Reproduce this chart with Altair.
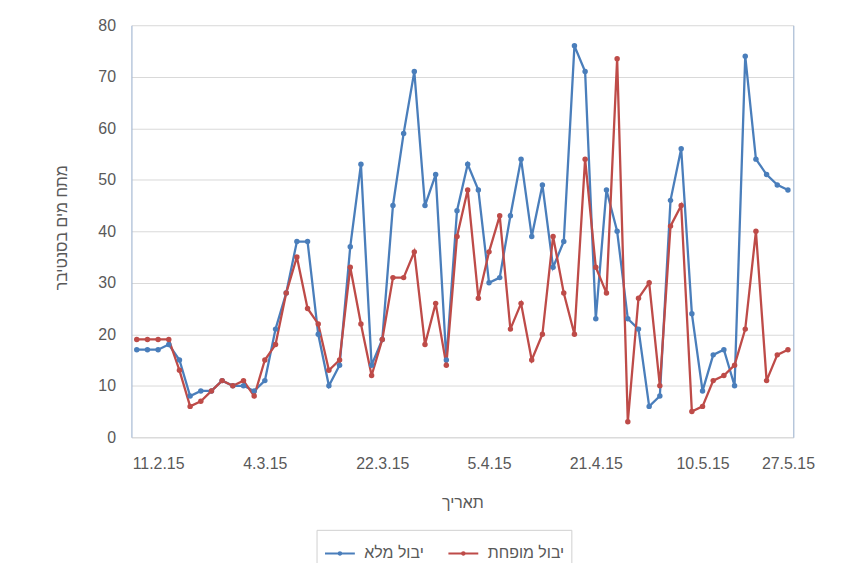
import altair as alt
import pandas as pd

# ---- data ----
series_full = "יבול מלא"
series_reduced = "יבול מופחת"

full_yield = [17, 17, 17, 18, 15, 8, 9, 9, 11, 10, 10, 9, 11,
              21, 28, 38, 38, 20, 10, 14, 37, 53, 14, 19, 45,
              59, 71, 45, 51, 15, 44, 53, 48, 30, 31, 43, 54,
              39, 49, 33, 38, 76, 71, 23, 48, 40, 23, 21, 6,
              8, 46, 56, 24, 9, 16, 17, 10, 74, 54, 51, 49, 48]
reduced_yield = [19, 19, 19, 19, 13, 6, 7, 9, 11, 10, 11, 8, 15,
                 18, 28, 35, 25, 22, 13, 15, 33, 22, 12, 19, 31,
                 31, 36, 18, 26, 14, 39, 48, 27, 36, 43, 21, 26,
                 15, 20, 39, 28, 20, 54, 33, 28, 73.5, 3, 27, 30,
                 10, 41, 45, 5, 6, 11, 12, 14, 21, 40, 11, 16, 17]

tick_positions = [2, 12, 23, 33, 43, 53, 61]
tick_labels = ["11.2.15", "4.3.15", "22.3.15", "5.4.15", "21.4.15", "10.5.15", "27.5.15"]

colors = ["#4A7EBB", "#BE4B48"]

rows = []
for i, v in enumerate(full_yield):
    rows.append({"i": i, "v": v, "s": series_full})
for i, v in enumerate(reduced_yield):
    rows.append({"i": i, "v": v, "s": series_reduced})
df = pd.DataFrame(rows)

label_expr = ""
for p, l in zip(tick_positions, tick_labels):
    label_expr += f"datum.value == {p} ? '{l}' : "
label_expr += "''"

FONT = "Liberation Sans"
GRAY = "#595959"

x_enc = alt.X(
    "i:Q",
    scale=alt.Scale(domain=[-0.5, len(full_yield) - 0.5], nice=False, zero=False),
    axis=alt.Axis(
        values=tick_positions, labelExpr=label_expr, title="תאריך",
        grid=False, ticks=False, domainColor="#D9D9D9", domainWidth=1,
        labelFont=FONT, labelFontSize=16, labelColor=GRAY, labelPadding=18,
        labelOverlap=False, labelBound=False, labelFlush=False,
        titleFont=FONT, titleFontSize=16, titleColor=GRAY, titleFontWeight="normal",
        titleY=58, titleBaseline="top",
    ),
)

y_left = alt.Y(
    "v:Q",
    scale=alt.Scale(domain=[0, 80], nice=False),
    axis=alt.Axis(
        values=[0, 10, 20, 30, 40, 50, 60, 70, 80], title="מתח מים בסנטיבר",
        grid=True, gridColor="#D9D9D9", gridWidth=1, ticks=False,
        domainColor="#A7BAD3", domainWidth=1.2,
        labelFont=FONT, labelFontSize=16, labelColor=GRAY, labelPadding=16,
        titleFont=FONT, titleFontSize=16, titleColor=GRAY, titleFontWeight="normal",
        titleX=-70, titleY=203, titleBaseline="middle", titleAlign="center",
    ),
)

y_right = alt.Y(
    "v:Q",
    scale=alt.Scale(domain=[0, 80], nice=False),
    axis=alt.Axis(orient="right", labels=False, ticks=False, grid=False, title=None,
                  domainColor="#A7BAD3", domainWidth=1.2),
)

color_enc = alt.Color(
    "s:N",
    scale=alt.Scale(domain=[series_full, series_reduced], range=colors),
    legend=alt.Legend(
        title=None, orient="none", direction="horizontal", legendX=186, legendY=507,
        symbolType="M-1,0L1,0M-0.08,0a0.08,0.08 0 1,0 0.16,0a0.08,0.08 0 1,0 -0.16,0",
        symbolSize=900, symbolStrokeWidth=2.2,
        labelFont=FONT, labelFontSize=16, labelColor=GRAY, labelOffset=8,
        columnPadding=20, padding=7, strokeColor="#D0D0D0",
    ),
)

lines = alt.Chart(df).mark_line(strokeWidth=2.3).encode(
    x=x_enc, y=y_right, color=color_enc, detail="s:N", order="i:Q"
)
points = alt.Chart(df).mark_circle(size=30, opacity=1).encode(
    x=x_enc, y=y_left, color=alt.Color("s:N", scale=alt.Scale(domain=[series_full, series_reduced], range=colors), legend=None)
)

chart = (
    alt.layer(lines, points)
    .resolve_scale(y="independent")
    .properties(
        width=665, height=414,
        autosize=alt.AutoSizeParams(type="none"),
        padding={"left": 124, "top": 16, "right": 60, "bottom": 125},
    )
    .configure_view(stroke=None)
)

chart.save("out.html", embed_options={"renderer": "svg", "actions": False})
